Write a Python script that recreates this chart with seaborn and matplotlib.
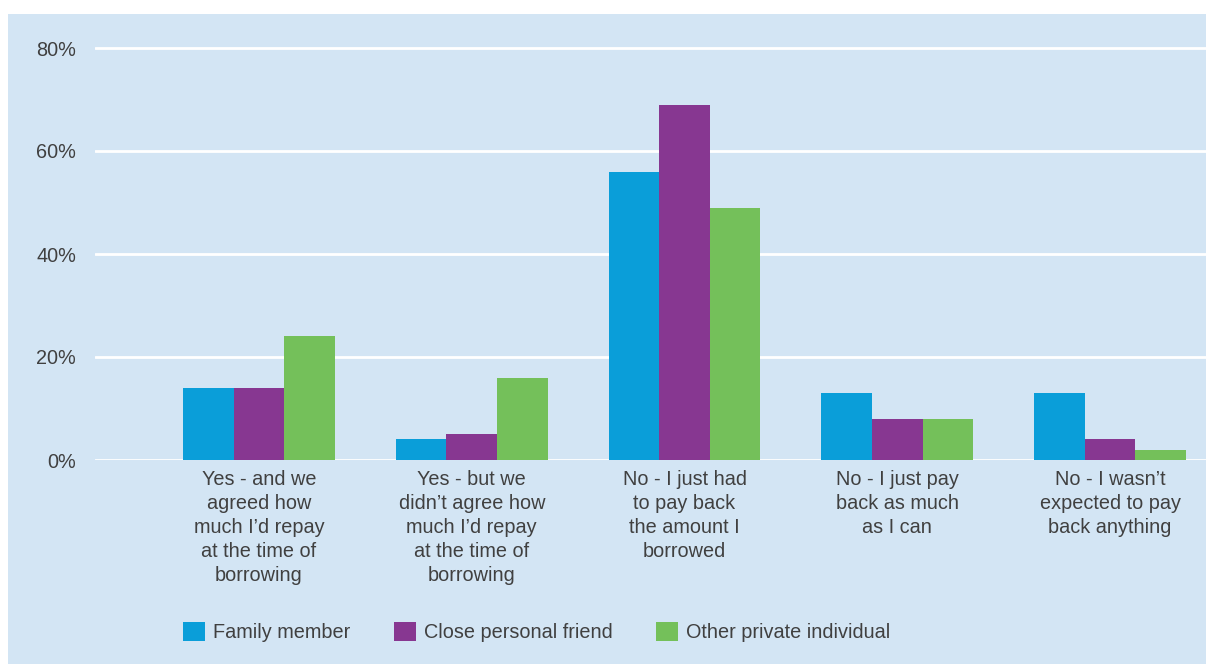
import matplotlib
matplotlib.use("Agg")
import matplotlib.pyplot as plt
import pandas as pd
import seaborn as sns
from matplotlib.patches import Rectangle, Patch

# Survey answers (x axis categories)
categories = [
    "Yes - and we\nagreed how\nmuch I’d repay\nat the time of\nborrowing",
    "Yes - but we\ndidn’t agree how\nmuch I’d repay\nat the time of\nborrowing",
    "No - I just had\nto pay back\nthe amount I\nborrowed",
    "No - I just pay\nback as much\nas I can",
    "No - I wasn’t\nexpected to pay\nback anything",
]
lenders = ["Family member", "Close personal friend", "Other private individual"]

# Share of respondents (%) per lender type
family = [14, 4, 56, 13, 13]
friend = [14, 5, 69, 8, 4]
other = [24, 16, 49, 8, 2]

yticks = [0, 20, 40, 60, 80]
ytick_labels = ["0%", "20%", "40%", "60%", "80%"]

colors = ["#0a9ed9", "#873791", "#74c05a"]
bg = "#d3e5f4"
text_color = "#404040"
fs = 14.3

rows = []
for lender, vals in zip(lenders, [family, friend, other]):
    for cat, v in zip(categories, vals):
        rows.append({"answer": cat, "lender": lender, "pct": v})
df = pd.DataFrame(rows)

W, H = 1206, 664
sns.set_theme(style="white")
plt.rcParams["font.family"] = ["Liberation Sans", "DejaVu Sans"]

fig = plt.figure(figsize=(W / 100, H / 100), dpi=100, facecolor="white")
fig.patches.append(Rectangle((8 / W, 0), 1 - 8 / W, 1 - 14 / H,
                             transform=fig.transFigure, facecolor=bg,
                             edgecolor="none", zorder=-10))

px_per_unit = 5.15
ymax = 82
ax_h = ymax * px_per_unit
ax = fig.add_axes([95 / W, (H - 460) / H, 1 - 95 / W, ax_h / H])
ax.set_facecolor("none")

sns.barplot(data=df, x="answer", y="pct", hue="lender", order=categories,
            hue_order=lenders, palette=colors, width=0.714, gap=0,
            saturation=1, linewidth=0, ax=ax, legend=False, zorder=3)

ax.set_xlim(-0.771, 4.451)
ax.set_ylim(0, ymax)
ax.set_yticks(yticks)
ax.set_yticklabels(ytick_labels)
ax.grid(axis="y", color="white", linewidth=2, zorder=0)
ax.set_axisbelow(True)
for s in ax.spines.values():
    s.set_visible(False)
ax.set_xlabel("")
ax.set_ylabel("")
ax.tick_params(axis="y", length=0, pad=13.7, labelsize=fs, labelcolor=text_color)
ax.tick_params(axis="x", length=0, pad=7.5, labelsize=fs, labelcolor=text_color)
for lab in ax.get_xticklabels():
    lab.set_linespacing(1.32)
    lab.set_ha("center")

handles = [Patch(facecolor=c, edgecolor="none", label=l) for c, l in zip(colors, lenders)]
fig.legend(handles=handles, loc="upper left",
           bbox_to_anchor=(183 / W, 1 - 622 / H), ncol=3, frameon=False,
           fontsize=fs, handlelength=1.1, handleheight=1.1,
           handletextpad=0.4, columnspacing=2.2, borderpad=0,
           borderaxespad=0, labelcolor=text_color)

fig.savefig("out.png", dpi=100, facecolor="white")
